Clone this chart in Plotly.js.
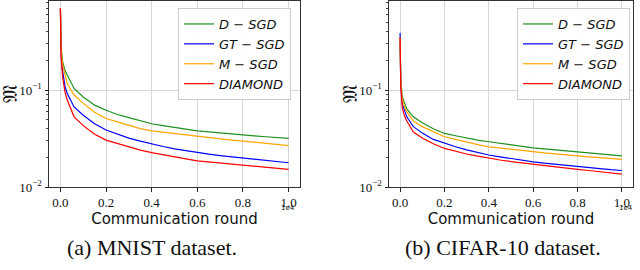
<!DOCTYPE html>
<html><head><meta charset="utf-8">
<script src="https://cdn.plot.ly/plotly-3.0.1.min.js"></script>
<style>html,body{margin:0;padding:0;background:#fff}#chart{width:640px;height:270px}</style>
</head><body><div id="chart"></div>
<script>
// Communication rounds
var rounds = [0, 30, 100, 200, 300, 600, 1000, 1500, 2000, 2500, 3000, 3500, 4000, 4500, 5000, 5500, 6000, 6500, 7000, 7500, 8000, 8500, 9000, 9500, 10000];

// MNIST (a)
var mnistD  = [0.70, 0.27, 0.196, 0.160, 0.143, 0.104, 0.085, 0.070, 0.062, 0.056, 0.052, 0.048, 0.045, 0.043, 0.041, 0.0395, 0.038, 0.037, 0.036, 0.035, 0.0343, 0.0337, 0.033, 0.0324, 0.0318];
var mnistGT = [0.70, 0.24, 0.155, 0.110, 0.092, 0.067, 0.055, 0.045, 0.0387, 0.035, 0.032, 0.0297, 0.0277, 0.0262, 0.0248, 0.0237, 0.0226, 0.0218, 0.0211, 0.0205, 0.0199, 0.0193, 0.0188, 0.0183, 0.0178];
var mnistM  = [0.70, 0.26, 0.180, 0.140, 0.117, 0.089, 0.073, 0.059, 0.051, 0.047, 0.043, 0.040, 0.038, 0.0368, 0.0355, 0.0342, 0.033, 0.032, 0.031, 0.0304, 0.0298, 0.029, 0.0282, 0.0274, 0.0267];
var mnistDI = [0.70, 0.22, 0.135, 0.096, 0.079, 0.053, 0.043, 0.035, 0.0305, 0.028, 0.0258, 0.024, 0.0226, 0.0214, 0.0204, 0.0195, 0.0186, 0.0181, 0.0177, 0.0173, 0.0169, 0.0164, 0.016, 0.0156, 0.0152];

// CIFAR-10 (b)
var cifarD  = [0.33, 0.125, 0.085, 0.072, 0.064, 0.053, 0.046, 0.040, 0.0357, 0.0338, 0.032, 0.0305, 0.0293, 0.0282, 0.0272, 0.0263, 0.0254, 0.0248, 0.0242, 0.0236, 0.0231, 0.0225, 0.022, 0.0215, 0.021];
var cifarGT = [0.39, 0.115, 0.072, 0.060, 0.053, 0.042, 0.036, 0.031, 0.0282, 0.026, 0.0242, 0.0227, 0.0214, 0.0205, 0.0196, 0.0189, 0.0182, 0.0176, 0.0171, 0.0166, 0.0162, 0.0158, 0.0155, 0.0151, 0.0148];
var cifarM  = [0.35, 0.120, 0.080, 0.067, 0.060, 0.048, 0.042, 0.037, 0.033, 0.031, 0.029, 0.0274, 0.026, 0.0252, 0.0244, 0.0237, 0.0231, 0.0225, 0.022, 0.0214, 0.0209, 0.0205, 0.0201, 0.0197, 0.0193];
var cifarDI = [0.35, 0.110, 0.065, 0.054, 0.048, 0.037, 0.032, 0.028, 0.025, 0.0233, 0.0219, 0.0208, 0.0198, 0.019, 0.0183, 0.0177, 0.0171, 0.0166, 0.0161, 0.0156, 0.0152, 0.0148, 0.0144, 0.014, 0.0136];

var names  = ['D \u2212 SGD', 'GT \u2212 SGD', 'M \u2212 SGD', 'DIAMOND'];
var colors = ['#1f8f1f', '#0000ff', '#ffa500', '#ff0000'];
var xTickVals = [0, 2000, 4000, 6000, 8000, 10000];
var xTickText = ['0.0', '0.2', '0.4', '0.6', '0.8', '1.0'];
var yTickVals = [0.01, 0.1];
var yTickText = ['10<sup>\u22122</sup>', '10<sup>\u22121</sup>'];
var yMinorVals = [0.02, 0.03, 0.04, 0.05, 0.06, 0.07, 0.08, 0.09, 0.2, 0.3, 0.4, 0.5, 0.6, 0.7, 0.8];
var captions = ['(a) MNIST dataset.', '(b) CIFAR-10 dataset.'];

var mnist = [mnistD, mnistGT, mnistM, mnistDI];
var cifar = [cifarD, cifarGT, cifarM, cifarDI];
var traces = [];
mnist.forEach(function (ys, i) {
  traces.push({x: rounds, y: ys, type: 'scatter', mode: 'lines', name: '<i>' + names[i] + '</i>',
    line: {color: colors[i], width: 1.2}, xaxis: 'x', yaxis: 'y', legend: 'legend'});
});
cifar.forEach(function (ys, i) {
  traces.push({x: rounds, y: ys, type: 'scatter', mode: 'lines', name: '<i>' + names[i] + '</i>',
    line: {color: colors[i], width: 1.2}, xaxis: 'x2', yaxis: 'y2', legend: 'legend2'});
});

var W = 640, H = 270;
function xa(d0, d1, anchor) {
  return {domain: [d0 / W, d1 / W], anchor: anchor, range: [-500, 10500],
    tickvals: xTickVals, ticktext: xTickText, ticks: 'outside', ticklen: 3.5, tickcolor: '#222',
    tickfont: {family: 'Liberation Serif', size: 13, color: '#111'},
    showgrid: true, gridcolor: '#d6d6d6', gridwidth: 1, zeroline: false,
    showline: true, linecolor: '#333', linewidth: 1, mirror: true,
    title: {text: 'Communication round', font: {family: 'DejaVu Sans', size: 15, color: '#111'}, standoff: 0}};
}
function ya(anchor) {
  return {domain: [1 - 187 / H, 1 - 1 / H], anchor: anchor, type: 'log', range: [-2, -0.08],
    tickvals: yTickVals, ticktext: yTickText, ticks: 'outside', ticklen: 3.5, tickcolor: '#222',
    tickfont: {family: 'Liberation Serif', size: 13, color: '#111'},
    minor: {tickvals: yMinorVals, ticks: 'outside', ticklen: 2, tickcolor: '#444', showgrid: false},
    showgrid: true, gridcolor: '#d6d6d6', gridwidth: 1, zeroline: false,
    showline: true, linecolor: '#333', linewidth: 1, mirror: true};
}
function leg(x) {
  return {x: x / W, y: 1 - 8 / H, xanchor: 'left', yanchor: 'top', xref: 'paper', yref: 'paper',
    bgcolor: 'rgba(255,255,255,0.9)', bordercolor: '#cccccc', borderwidth: 1,
    font: {family: 'DejaVu Sans', size: 13, color: '#111'}, itemwidth: 30, tracegroupgap: 0};
}
function ann(text, x, y, font, angle) {
  return {text: text, x: x / W, y: 1 - y / H, xref: 'paper', yref: 'paper', showarrow: false,
    xanchor: 'center', yanchor: 'middle', textangle: angle || 0, font: font};
}

var annotations = [
  ann('\uD835\uDD10', 10, 94, {family: 'DejaVu Serif', size: 20, color: '#111'}, -90),
  ann('\uD835\uDD10', 350, 94, {family: 'DejaVu Serif', size: 20, color: '#111'}, -90),
  ann('1e4', 288, 208, {family: 'DejaVu Sans', size: 7, color: '#111'}),
  ann('1e4', 626, 208, {family: 'DejaVu Sans', size: 7, color: '#111'}),
  ann(captions[0], 152, 247, {family: 'Liberation Serif', size: 22, color: '#111'}),
  ann(captions[1], 503, 247, {family: 'Liberation Serif', size: 22, color: '#111'})
];

var layout = {
  width: W, height: H, margin: {l: 0, r: 0, t: 0, b: 0},
  paper_bgcolor: '#fff', plot_bgcolor: '#fff', showlegend: true,
  xaxis: xa(49, 300, 'y'), yaxis: ya('x'),
  xaxis2: xa(389, 633, 'y2'), yaxis2: ya('x2'),
  legend: leg(178), legend2: leg(517),
  annotations: annotations
};
Plotly.newPlot('chart', traces, layout, {displayModeBar: false, staticPlot: true});
</script>
</body></html>
